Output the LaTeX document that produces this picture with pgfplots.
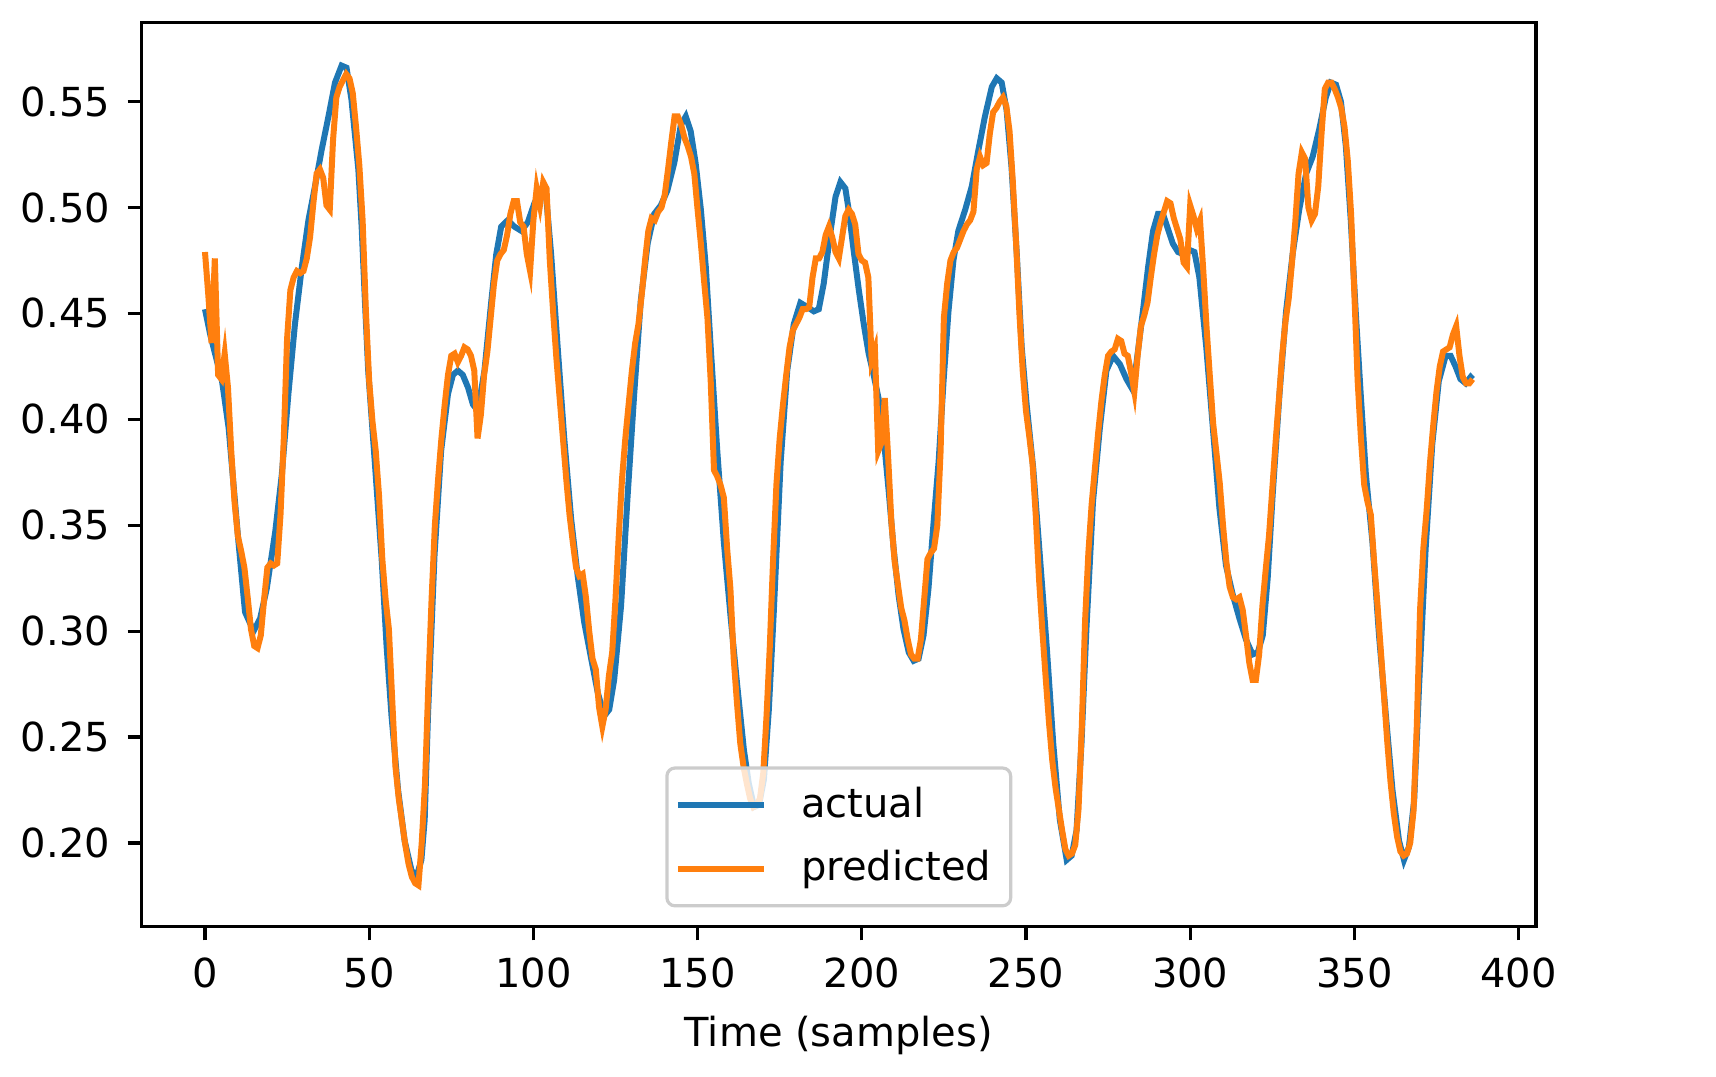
\documentclass[border=0pt]{standalone}
\usepackage{fontspec}
\setmainfont{DejaVu Sans}
\usepackage{pgfplots}
\pgfplotsset{compat=1.18}
\definecolor{c0}{HTML}{1F77B4}
\definecolor{c1}{HTML}{FF7F0E}
\newcommand{\tf}{\fontsize{10}{12}\selectfont}
\begin{document}
\begin{tikzpicture}
\path[use as bounding box] (-35.4pt,-37.4pt) rectangle (393.6pt,231.6pt);
\begin{axis}[
  at={(0,0)}, anchor=south west,
  scale only axis, width=348.6pt, height=226pt,
  xmin=-19.3, xmax=405.3, ymin=0.1606, ymax=0.5874,
  axis line style={line width=0.8pt},
  tick align=outside, major tick length=3.5pt,
  every tick/.style={black, line width=0.8pt},
  xtick pos=bottom, ytick pos=left,
  xtick={0,50,100,150,200,250,300,350,400},
  ytick={0.20,0.25,0.30,0.35,0.40,0.45,0.50,0.55},
  /pgf/number format/assume math mode=true,
  yticklabel style={/pgf/number format/fixed, /pgf/number format/fixed zerofill, /pgf/number format/precision=2,
    anchor=east, inner sep=0pt, xshift=-4.2pt, font=\tf},
  xticklabel style={anchor=north, inner sep=0pt, yshift=-4.1pt, font=\tf},
  scaled y ticks=false,
  xlabel={Time (samples)},
  xlabel style={at={(axis description cs:0.5,0)}, anchor=base, yshift=-29.9pt, inner sep=0pt, font=\tf},
  legend cell align=left,
  legend style={at={(0.5,0.0210)}, anchor=south, draw=black!20, line width=0.8pt,
    rounded corners=2pt, fill=white, fill opacity=0.8, text opacity=1, font=\tf,
    inner xsep=4.9pt, inner ysep=3.5pt, row sep=4.25pt, column sep=7.2pt,
    nodes={inner sep=0pt, text height=8.8pt, text depth=2.8pt}},
  legend image code/.code={\path[draw=none, fill=none] (0pt,-0.75pt) rectangle (21.5pt,0.75pt);
    \draw[#1, line width=1.5pt, draw opacity=1, overlay] (-2.15pt,0pt) -- (19.35pt,0pt);},
]
\addplot[c0, line width=1.5pt] coordinates {
(0,0.452) (1.6,0.440) (5.2,0.418) (7.2,0.396) (10.2,0.342) (12.2,0.309) (14.8,0.300) (16.8,0.306) (18.8,0.320) (21.4,0.347)
(23.4,0.374) (25.4,0.412) (27.4,0.445) (29.5,0.472) (31.5,0.494) (33.5,0.510) (35.5,0.527) (37.6,0.543) (39.6,0.559) (41.6,0.567)
(43.1,0.566) (44.6,0.551) (46.7,0.518) (47.7,0.491) (48.7,0.456) (49.7,0.423) (51.7,0.380) (53.8,0.334) (55.3,0.293) (56.8,0.260)
(58.8,0.225) (60.8,0.201) (62.9,0.187) (64.4,0.184) (65.9,0.192) (66.9,0.211) (67.9,0.260) (69.9,0.336) (71.9,0.385) (74.0,0.412)
(75.5,0.421) (77.0,0.423) (78.5,0.421) (80.1,0.415) (81.6,0.407) (83.1,0.404) (85.1,0.423) (87.2,0.456) (88.7,0.478) (90.2,0.491)
(92.2,0.494) (94.2,0.491) (96.3,0.489) (98.3,0.493) (100.3,0.502) (102.4,0.508) (103.9,0.505) (105.4,0.478) (107.4,0.434) (109.4,0.391)
(111.5,0.353) (113.5,0.326) (115.5,0.304) (117.6,0.287) (119.6,0.271) (121.6,0.260) (123.1,0.263) (124.6,0.277) (126.7,0.312) (128.7,0.364)
(130.7,0.412) (132.7,0.456) (134.8,0.483) (136.8,0.497) (138.8,0.501) (140.8,0.508) (142.9,0.521) (144.9,0.539) (146.4,0.543) (147.9,0.536)
(149.4,0.521) (151.0,0.499) (152.5,0.472) (154.0,0.434) (156.0,0.385) (158.0,0.342) (160.1,0.306) (162.1,0.274) (164.1,0.244) (165.6,0.228)
(167.2,0.217) (168.7,0.218) (170.2,0.230) (171.7,0.263) (173.2,0.309) (175.3,0.380) (177.3,0.423) (179.3,0.445) (181.3,0.455) (183.4,0.453)
(185.4,0.451) (186.9,0.452) (188.4,0.464) (190.5,0.489) (192.0,0.505) (193.5,0.512) (195.0,0.509) (196.0,0.499) (197.5,0.480) (199.1,0.461)
(200.6,0.445) (202.1,0.431) (203.6,0.421) (205.1,0.410) (206.7,0.391) (208.2,0.366) (209.7,0.339) (211.2,0.317) (212.7,0.301) (214.3,0.290)
(215.8,0.286) (217.3,0.287) (218.8,0.298) (220.3,0.320) (221.8,0.350) (223.4,0.380) (224.9,0.418) (226.4,0.451) (227.9,0.475) (229.4,0.489)
(231.5,0.499) (233.5,0.510) (235.5,0.527) (237.5,0.543) (239.6,0.557) (241.1,0.561) (242.6,0.559) (244.1,0.546) (245.6,0.519) (247.2,0.478)
(248.7,0.434) (250.2,0.407) (252.2,0.377) (254.2,0.336) (256.3,0.293) (258.3,0.247) (260.3,0.211) (262.4,0.192) (263.9,0.194) (265.4,0.206)
(266.9,0.247) (268.4,0.301) (270.4,0.361) (272.5,0.396) (274.5,0.423) (276.5,0.430) (278.6,0.426) (280.6,0.419) (282.1,0.415) (283.6,0.426)
(285.6,0.451) (287.2,0.472) (288.7,0.489) (290.2,0.497) (291.7,0.497) (293.2,0.490) (294.7,0.483) (296.3,0.479) (297.8,0.478) (299.8,0.480)
(301.3,0.479) (302.8,0.467) (304.9,0.434) (306.9,0.396) (308.9,0.358) (310.9,0.331) (313.0,0.317) (315.0,0.306) (317.0,0.296) (319.0,0.289)
(320.6,0.290) (322.1,0.298) (323.6,0.325) (325.1,0.364) (327.2,0.412) (329.2,0.451) (331.2,0.478) (333.2,0.499) (335.3,0.516) (337.3,0.524)
(339.3,0.537) (341.3,0.552) (342.8,0.559) (344.4,0.558) (345.9,0.550) (347.4,0.529) (348.9,0.494) (350.4,0.451) (352.0,0.410) (353.5,0.374)
(355.5,0.342) (357.5,0.298) (359.6,0.260) (361.6,0.225) (363.6,0.201) (365.1,0.192) (366.6,0.198) (368.2,0.220) (369.7,0.274) (371.7,0.339)
(373.7,0.388) (375.7,0.418) (377.8,0.430) (379.3,0.430) (380.8,0.425) (382.3,0.419) (383.9,0.417) (385.4,0.420) (386,0.419)
};
\addlegendentry{actual}
\addplot[c1, line width=1.5pt] coordinates {
(0,0.479) (1,0.459) (2,0.436) (3,0.476) (4,0.421) (5,0.419) (6,0.431) (7,0.415) (8,0.385) (9,0.361)
(10,0.345) (11,0.338) (12,0.330) (13,0.316) (14,0.301) (15,0.293) (16,0.292) (17,0.298) (18,0.315) (19,0.330)
(20,0.332) (21,0.331) (22,0.332) (23,0.355) (24,0.391) (25,0.438) (26,0.461) (27,0.467) (28,0.470) (29,0.469)
(30,0.470) (31,0.476) (32,0.486) (33,0.502) (34,0.516) (35,0.518) (36,0.514) (37,0.501) (38,0.499) (39,0.532)
(40,0.552) (41,0.557) (42,0.560) (43,0.563) (44,0.561) (45,0.554) (46,0.538) (47,0.520) (48,0.494) (49,0.451)
(50,0.418) (51,0.399) (52,0.385) (53,0.364) (54,0.334) (55,0.315) (56,0.301) (57,0.268) (58,0.236) (59,0.221)
(60,0.210) (61,0.199) (62,0.190) (63,0.184) (64,0.181) (65,0.180) (66,0.200) (67,0.228) (68,0.274) (69,0.315)
(70,0.350) (71,0.372) (72,0.391) (73,0.407) (74,0.421) (75,0.430) (76,0.431) (77,0.427) (78,0.430) (79,0.434)
(80,0.433) (81,0.430) (82,0.423) (83,0.391) (84,0.402) (85,0.421) (86,0.432) (87,0.448) (88,0.464) (89,0.475)
(90,0.478) (91,0.480) (92,0.487) (93,0.497) (94,0.503) (95,0.503) (96,0.493) (97,0.491) (98,0.478) (99,0.470)
(100,0.494) (101,0.509) (102,0.501) (103,0.512) (104,0.509) (105,0.475) (106,0.451) (107,0.429) (108,0.410) (109,0.391)
(110,0.372) (111,0.355) (112,0.342) (113,0.330) (114,0.326) (115,0.327) (116,0.316) (117,0.300) (118,0.287) (119,0.282)
(120,0.264) (121,0.255) (122,0.263) (123,0.279) (124,0.290) (125,0.315) (126,0.345) (127,0.372) (128,0.391) (129,0.407)
(130,0.423) (131,0.436) (132,0.445) (133,0.459) (134,0.475) (135,0.489) (136,0.495) (137,0.494) (138,0.498) (139,0.500)
(140,0.506) (141,0.518) (142,0.531) (143,0.543) (144,0.543) (145,0.539) (146,0.533) (147,0.529) (148,0.524) (149,0.516)
(150,0.499) (151,0.483) (152,0.465) (153,0.448) (154,0.418) (155,0.376) (156,0.373) (157,0.369) (158,0.363) (159,0.339)
(160,0.320) (161,0.287) (162,0.266) (163,0.247) (164,0.236) (165,0.228) (166,0.221) (167,0.217) (168,0.218) (169,0.221)
(170,0.233) (171,0.260) (172,0.293) (173,0.334) (174,0.369) (175,0.391) (176,0.407) (177,0.421) (178,0.434) (179,0.442)
(180,0.445) (181,0.448) (182,0.452) (183,0.452) (184,0.453) (185,0.467) (186,0.476) (187,0.476) (188,0.479) (189,0.487)
(190,0.491) (191,0.486) (192,0.479) (193,0.476) (194,0.486) (195,0.496) (196,0.499) (197,0.497) (198,0.492) (199,0.478)
(200,0.475) (201,0.474) (202,0.467) (203,0.428) (204,0.433) (205,0.385) (206,0.389) (207,0.410) (208,0.383) (209,0.352)
(210,0.333) (211,0.322) (212,0.311) (213,0.305) (214,0.296) (215,0.289) (216,0.287) (217,0.287) (218,0.296) (219,0.315)
(220,0.334) (221,0.337) (222,0.339) (223,0.350) (224,0.385) (225,0.448) (226,0.464) (227,0.475) (228,0.479) (229,0.481)
(230,0.485) (231,0.489) (232,0.492) (233,0.494) (234,0.498) (235,0.518) (236,0.524) (237,0.520) (238,0.521) (239,0.535)
(240,0.545) (241,0.547) (242,0.550) (243,0.552) (244,0.548) (245,0.536) (246,0.512) (247,0.483) (248,0.450) (249,0.423)
(250,0.404) (251,0.392) (252,0.379) (253,0.354) (254,0.324) (255,0.300) (256,0.278) (257,0.257) (258,0.239) (259,0.226)
(260,0.216) (261,0.206) (262,0.197) (263,0.194) (264,0.195) (265,0.199) (266,0.216) (267,0.255) (268,0.305) (269,0.337)
(270,0.360) (271,0.377) (272,0.394) (273,0.409) (274,0.421) (275,0.430) (276,0.432) (277,0.433) (278,0.438) (279,0.437)
(280,0.431) (281,0.430) (282,0.422) (283,0.413) (284,0.430) (285,0.444) (286,0.449) (287,0.455) (288,0.467) (289,0.478)
(290,0.487) (291,0.493) (292,0.498) (293,0.503) (294,0.502) (295,0.495) (296,0.490) (297,0.485) (298,0.474) (299,0.472)
(300,0.501) (301,0.496) (302,0.490) (303,0.494) (304,0.470) (305,0.443) (306,0.420) (307,0.398) (308,0.384) (309,0.370)
(310,0.350) (311,0.333) (312,0.321) (313,0.316) (314,0.315) (315,0.316) (316,0.310) (317,0.298) (318,0.285) (319,0.277)
(320,0.277) (321,0.289) (322,0.312) (323,0.329) (324,0.345) (325,0.367) (326,0.389) (327,0.409) (328,0.430) (329,0.446)
(330,0.457) (331,0.474) (332,0.493) (333,0.516) (334,0.526) (335,0.523) (336,0.500) (337,0.494) (338,0.497) (339,0.510)
(340,0.535) (341,0.556) (342,0.559) (343,0.559) (344,0.556) (345,0.552) (346,0.547) (347,0.538) (348,0.522) (349,0.497)
(350,0.459) (351,0.418) (352,0.391) (353,0.369) (354,0.361) (355,0.355) (356,0.333) (357,0.313) (358,0.292) (359,0.270)
(360,0.248) (361,0.229) (362,0.214) (363,0.203) (364,0.196) (365,0.194) (366,0.195) (367,0.200) (368,0.215) (369,0.255)
(370,0.310) (371,0.339) (372,0.357) (373,0.379) (374,0.397) (375,0.413) (376,0.425) (377,0.432) (378,0.433) (379,0.434)
(380,0.440) (381,0.444) (382,0.430) (383,0.420) (384,0.417) (385,0.417) (386,0.419)
};
\addlegendentry{predicted}
\end{axis}
\end{tikzpicture}
\end{document}
